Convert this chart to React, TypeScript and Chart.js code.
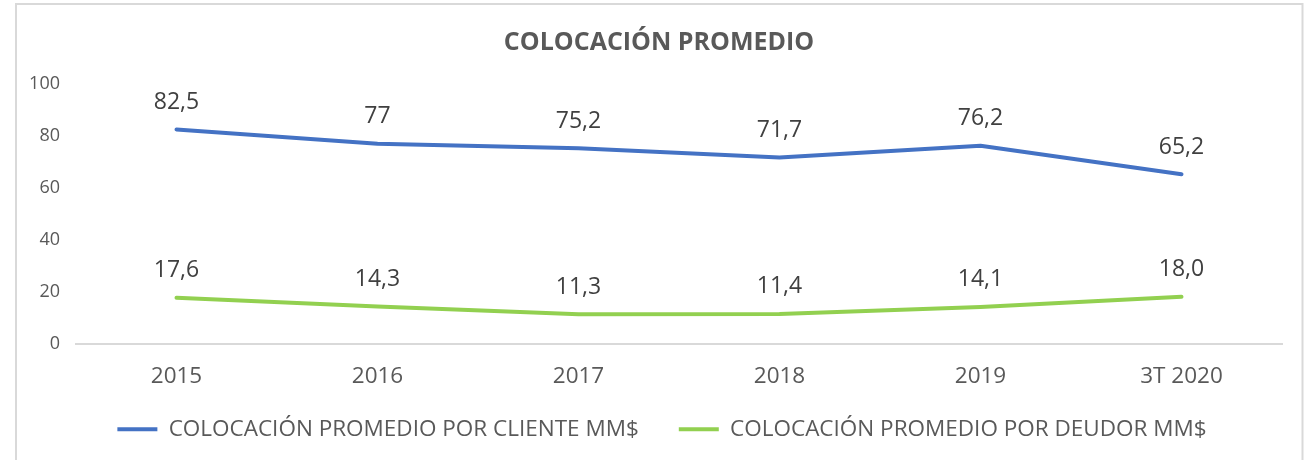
import React, { useEffect, useRef } from "react";
import { Chart, registerables } from "chart.js";

Chart.register(...registerables);

const TITLE = "COLOCACIÓN PROMEDIO";
const CATEGORIES = ["2015", "2016", "2017", "2018", "2019", "3T 2020"];
const CLIENTE_LABEL = "COLOCACIÓN PROMEDIO POR CLIENTE MM$";
const CLIENTE_VALUES = [82.5, 77, 75.2, 71.7, 76.2, 65.2];
const CLIENTE_TEXT = ["82,5", "77", "75,2", "71,7", "76,2", "65,2"];
const DEUDOR_LABEL = "COLOCACIÓN PROMEDIO POR DEUDOR MM$";
const DEUDOR_VALUES = [17.6, 14.3, 11.3, 11.4, 14.1, 18.0];
const DEUDOR_TEXT = ["17,6", "14,3", "11,3", "11,4", "14,1", "18,0"];
const Y_MIN = 0;
const Y_MAX = 100;
const Y_STEP = 20;

const FONT = "'Open Sans', 'Noto Sans', sans-serif";
const BLUE = "#4472C4";
const GREEN = "#92D050";

const framePlugin = {
  id: "frame",
  beforeDraw(chart: any) {
    const ctx = chart.ctx;
    ctx.save();
    ctx.fillStyle = "#ffffff";
    ctx.fillRect(0, 0, chart.width, chart.height);
    ctx.strokeStyle = "#d9d9d9";
    ctx.lineWidth = 2;
    ctx.strokeRect(16, 4, chart.width - 17.5, chart.height + 20);
    ctx.restore();
  },
};

// Nudge the legend and title boxes so they sit like the reference.
const boxShiftPlugin = {
  id: "boxShift",
  afterLayout(chart: any) {
    const lg = chart.legend;
    if (lg) {
      lg.top -= 12.5;
      lg.bottom -= 12.5;
      lg.left += 21;
      lg.right += 21;
    }
    const tb = chart.titleBlock;
    if (tb) {
      tb.left += 18;
      tb.right += 18;
    }
  },
};

const labelPlugin = {
  id: "valueLabels",
  afterDatasetsDraw(chart: any) {
    const ctx = chart.ctx;
    const texts = [CLIENTE_TEXT, DEUDOR_TEXT];
    ctx.save();
    ctx.font = `23px ${FONT}`;
    ctx.fillStyle = "#404040";
    ctx.textAlign = "center";
    ctx.textBaseline = "middle";
    chart.data.datasets.forEach((_ds: any, di: number) => {
      const meta = chart.getDatasetMeta(di);
      meta.data.forEach((pt: any, i: number) => {
        ctx.fillText(texts[di][i], pt.x, pt.y - 27);
      });
    });
    ctx.restore();
  },
};

export default function App() {
  const ref = useRef<HTMLCanvasElement | null>(null);
  useEffect(() => {
    document.body.style.margin = "0";
    if (!ref.current) return;
    const chart = new Chart(ref.current, {
      type: "line",
      data: {
        labels: CATEGORIES,
        datasets: [
          {
            label: CLIENTE_LABEL,
            data: CLIENTE_VALUES,
            borderColor: BLUE,
            backgroundColor: BLUE,
            borderWidth: 4,
            borderCapStyle: "round",
            borderJoinStyle: "round",
            pointRadius: 0,
            tension: 0,
          },
          {
            label: DEUDOR_LABEL,
            data: DEUDOR_VALUES,
            borderColor: GREEN,
            backgroundColor: GREEN,
            borderWidth: 4,
            borderCapStyle: "round",
            borderJoinStyle: "round",
            pointRadius: 0,
            tension: 0,
          },
        ],
      },
      options: {
        animation: false,
        responsive: false,
        maintainAspectRatio: false,
        layout: { padding: { left: 0, right: 22, top: 0, bottom: -3 } },
        plugins: {
          tooltip: { enabled: false },
          title: {
            display: true,
            text: TITLE,
            color: "#595959",
            font: { family: FONT, size: 25, weight: "bold" },
            padding: { top: 27.5, bottom: 26.5 },
          },
          legend: {
            position: "bottom",
            labels: {
              usePointStyle: true,
              pointStyle: "line",
              pointStyleWidth: 40,
              color: "#595959",
              font: { family: FONT, size: 22.5 },
              padding: 40,
            },
          },
        },
        scales: {
          x: {
            offset: true,
            grid: { display: false, drawTicks: false },
            border: { display: true, color: "#d9d9d9", width: 2 },
            ticks: {
              color: "#595959",
              font: { family: FONT, size: 22.5 },
              padding: 20,
              maxRotation: 0,
            },
            afterFit(scale: any) {
              scale.height = 47;
            },
          },
          y: {
            min: Y_MIN,
            max: Y_MAX,
            grid: { display: false, drawTicks: false },
            border: { display: false },
            ticks: {
              stepSize: Y_STEP,
              color: "#595959",
              font: { family: FONT, size: 18 },
              padding: 16,
            },
            afterFit(scale: any) {
              scale.width = 76;
            },
          },
        },
      },
      plugins: [framePlugin, boxShiftPlugin, labelPlugin],
    });
    return () => chart.destroy();
  }, []);
  return (
    <div style={{ width: 1304, height: 460 }}>
      <canvas ref={ref} width={1304} height={460} style={{ display: "block" }} />
    </div>
  );
}
